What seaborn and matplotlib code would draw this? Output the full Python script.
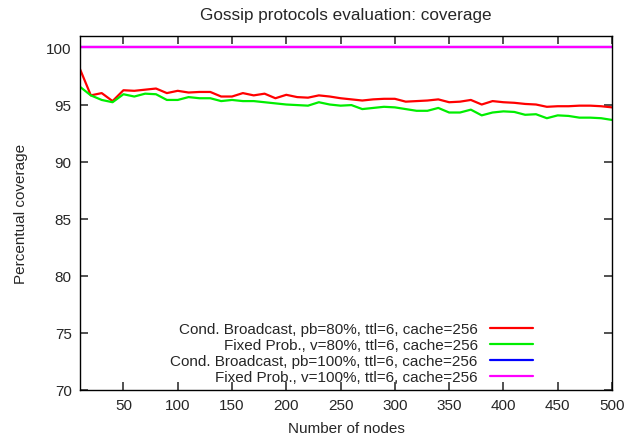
import numpy as np
import pandas as pd
import matplotlib
matplotlib.use("Agg")
import matplotlib.pyplot as plt
import seaborn as sns

nodes = list(range(10, 510, 10))

cond_bc_80 = [98.1, 95.8, 96.0, 95.3, 96.25, 96.2, 96.3, 96.4, 96.0, 96.2,
              96.05, 96.1, 96.1, 95.7, 95.7, 96.0, 95.8, 95.95, 95.55, 95.85,
              95.65, 95.6, 95.8, 95.7, 95.55, 95.45, 95.35, 95.45, 95.5, 95.5,
              95.25, 95.3, 95.35, 95.45, 95.2, 95.25, 95.4, 95.0, 95.3, 95.2,
              95.15, 95.05, 95.0, 94.8, 94.85, 94.85, 94.9, 94.9, 94.85, 94.75]

fixed_80 = [96.55, 95.8, 95.4, 95.2, 95.9, 95.7, 95.95, 95.9, 95.4, 95.4,
            95.65, 95.55, 95.55, 95.3, 95.4, 95.3, 95.3, 95.2, 95.1, 95.0,
            94.95, 94.9, 95.2, 95.0, 94.9, 94.95, 94.6, 94.7, 94.8, 94.75,
            94.6, 94.45, 94.45, 94.7, 94.3, 94.3, 94.55, 94.05, 94.3, 94.4,
            94.35, 94.1, 94.15, 93.8, 94.05, 94.0, 93.85, 93.85, 93.8, 93.65]

cond_bc_100 = [100.0] * len(nodes)
fixed_100 = [100.0] * len(nodes)

labels = ["Cond. Broadcast, pb=80%, ttl=6, cache=256",
          "Fixed Prob., v=80%, ttl=6, cache=256",
          "Cond. Broadcast, pb=100%, ttl=6, cache=256",
          "Fixed Prob., v=100%, ttl=6, cache=256"]
colors = ["#ff0000", "#00ee00", "#0000ff", "#ff00ff"]

df = pd.DataFrame({"nodes": nodes * 4,
                   "coverage": cond_bc_80 + fixed_80 + cond_bc_100 + fixed_100,
                   "series": np.repeat(labels, len(nodes))})

sns.set_style("white")
plt.rcParams["font.family"] = ["Liberation Sans", "DejaVu Sans"]
plt.rcParams["xtick.major.size"] = 6
plt.rcParams["ytick.major.size"] = 6

fig = plt.figure(figsize=(6.28, 4.39), dpi=100)
ax = fig.add_axes([80 / 628, 1 - 391 / 439, 532 / 628, 354 / 439])

sns.lineplot(data=df, x="nodes", y="coverage", hue="series", hue_order=labels,
             palette=colors, linewidth=1.6, ax=ax)

ax.set_xlim(10, 500)
ax.set_ylim(70, 101)
ax.set_xticks(range(50, 501, 50))
ax.set_yticks(range(70, 101, 5))
ax.tick_params(which="major", direction="in", length=6, width=1.2,
               color="#333333", bottom=True, left=True, top=True, right=True,
               labelsize=11, pad=6)
for s in ax.spines.values():
    s.set_color("black")
    s.set_linewidth(1)

ax.set_xlabel("Number of nodes", fontsize=11, labelpad=6)
ax.set_ylabel("Percentual coverage", fontsize=11, labelpad=13)
ax.set_title("Gossip protocols evaluation: coverage", fontsize=12.3, pad=12)

ax.legend(loc="lower right", bbox_to_anchor=(0.851, 0.016), frameon=False,
          markerfirst=False, fontsize=11, handlelength=2.8, handletextpad=0.8,
          labelspacing=0.14, borderpad=0, borderaxespad=0)

fig.savefig("out.png", dpi=100)
